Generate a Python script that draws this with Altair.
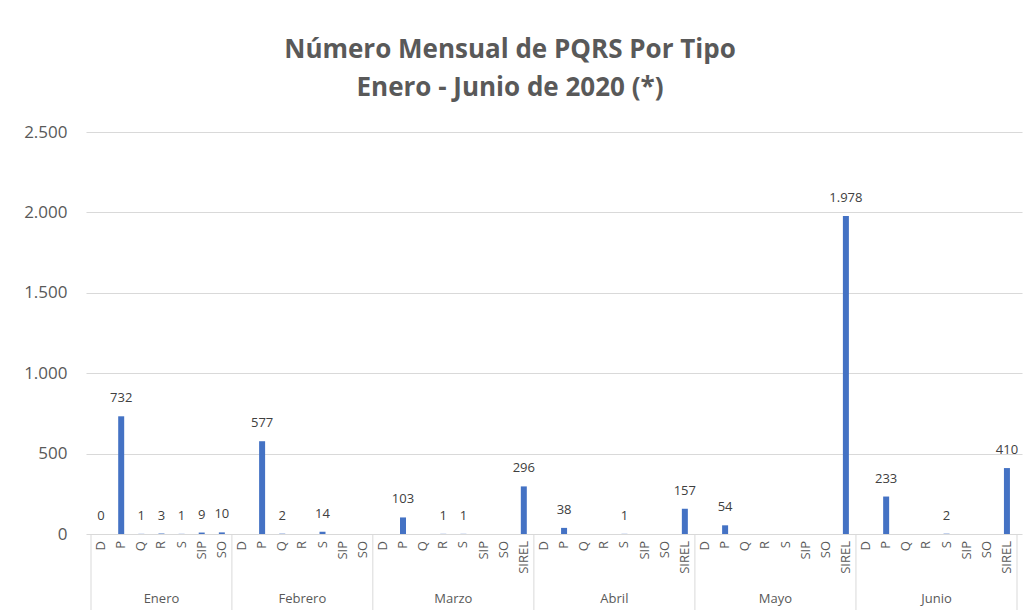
import altair as alt
import pandas as pd

months = ["Enero", "Febrero", "Marzo", "Abril", "Mayo", "Junio"]
types7 = ["D", "P", "Q", "R", "S", "SIP", "SO"]
types8 = ["D", "P", "Q", "R", "S", "SIP", "SO", "SIREL"]
month_types = [types7, types7, types8, types8, types8, types8]

enero = [0, 732, 1, 3, 1, 9, 10]
febrero = [None, 577, 2, None, 14, None, None]
marzo = [None, 103, None, 1, 1, None, None, 296]
abril = [None, 38, None, None, 1, None, None, 157]
mayo = [None, 54, None, None, None, None, None, 1978]
junio = [None, 233, None, None, 2, None, None, 410]
month_values = [enero, febrero, marzo, abril, mayo, junio]

rows = []
groups = []
idx = 0
for m, tps, vals in zip(months, month_types, month_values):
    start = idx
    for t, v in zip(tps, vals):
        rows.append({
            "mes": m, "tipo": t, "pos": idx + 0.5, "val": v,
            "lab": (f"{v:,}".replace(",", ".") if v is not None else None),
        })
        idx += 1
    groups.append({"mes": m, "start": start, "end": idx, "mid": (start + idx) / 2})
n_total = idx

df = pd.DataFrame(rows)
df["val"] = df["val"].astype("object")
gdf = pd.DataFrame(groups)
bounds = pd.DataFrame({"b": [0] + [g["end"] for g in groups]})

W, H = 936, 402
FONT = "Open Sans"
GRAY = "#595959"
LINE = "#d9d9d9"

xs = alt.Scale(domain=[0, n_total], nice=False, zero=False)

base = alt.Chart(df)

bars = base.transform_filter("isValid(datum.val)").mark_bar(
    size=6, color="#4472c4", orient="vertical"
).encode(
    x=alt.X("pos:Q", scale=xs, axis=None),
    y=alt.Y("val:Q", scale=alt.Scale(domain=[0, 2500], nice=False),
            axis=alt.Axis(values=[0, 500, 1000, 1500, 2000, 2500], title=None,
                          labelExpr="replace(format(datum.value, ','), ',', '.')",
                          domain=False, ticks=False, labelFont=FONT, labelFontSize=17,
                          labelColor=GRAY, labelPadding=19, gridColor=LINE, gridWidth=1)),
)

vlabels = base.transform_filter("isValid(datum.val)").mark_text(
    dy=-18, baseline="middle", align="center", font=FONT, fontSize=13, color="#404040"
).encode(
    x=alt.X("pos:Q", scale=xs, axis=None),
    y=alt.Y("val:Q"),
    text="lab:N",
)

cat_labels = base.mark_text(
    angle=270, align="right", baseline="middle", font=FONT, fontSize=13, color=GRAY
).encode(
    x=alt.X("pos:Q", scale=xs, axis=None),
    y=alt.value(H + 7),
    text="tipo:N",
)

month_labels = alt.Chart(gdf).mark_text(
    baseline="middle", align="center", font=FONT, fontSize=13, color=GRAY
).encode(
    x=alt.X("mid:Q", scale=xs, axis=None),
    y=alt.value(H + 65),
    text="mes:N",
)

seps = alt.Chart(bounds).mark_rule(color=LINE, strokeWidth=1).encode(
    x=alt.X("b:Q", scale=xs, axis=None),
    y=alt.value(H),
    y2=alt.value(H + 76),
)

chart = alt.layer(seps, bars, vlabels, cat_labels, month_labels).properties(
    width=W, height=H,
    title=alt.TitleParams(
        text=["Número Mensual de PQRS Por Tipo", "Enero - Junio de 2020 (*)"],
        font="Open Sans", fontSize=26, fontWeight="bold", color=GRAY,
        anchor="middle", dx=-44, offset=22, lineHeight=38,
    ),
    autosize=alt.AutoSizeParams(type="none"),
    padding={"left": 78, "top": 124, "right": 5, "bottom": 79},
).configure_view(stroke=None)

chart.save("out.html", embed_options={"renderer": "svg", "actions": False})
